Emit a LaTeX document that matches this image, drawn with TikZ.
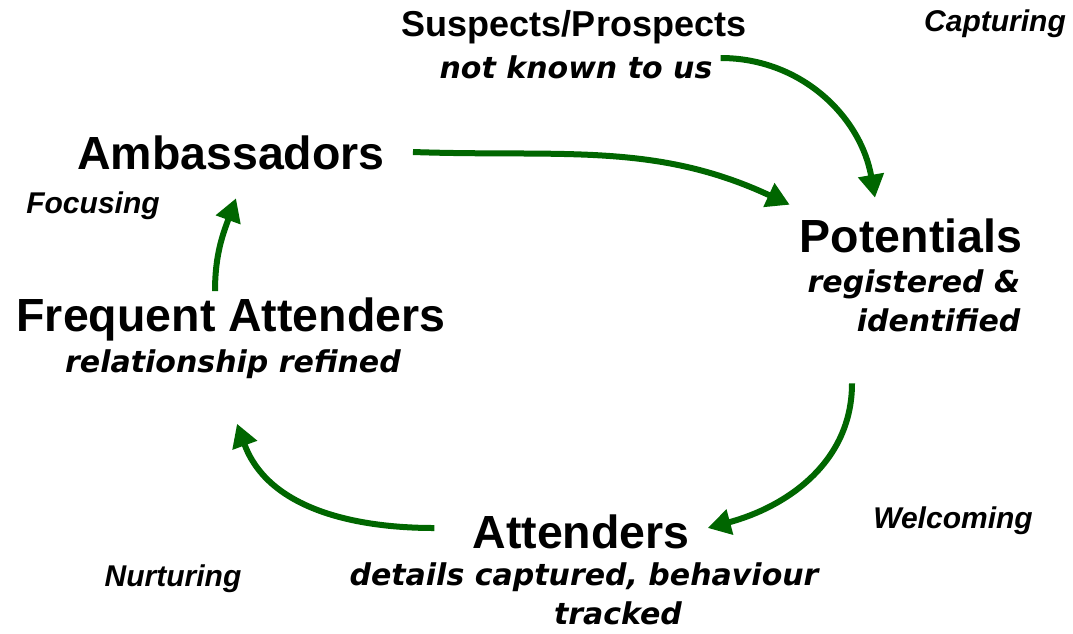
\documentclass[tikz,border=0pt]{standalone}
\usepackage{fontspec}
\setmainfont{Liberation Sans}
\newfontfamily\notefont{DejaVu Sans}
\usetikzlibrary{arrows.meta}
\definecolor{flowgreen}{RGB}{0,102,0}

\begin{document}
\begin{tikzpicture}[x=1pt, y=1pt,
    stage/.style={inner sep=0pt, font=\fontsize{46.5}{50}\selectfont\bfseries},
    note/.style={inner sep=0pt, align=center, font=\fontsize{30}{39}\selectfont\notefont\bfseries\itshape},
    phase/.style={inner sep=0pt, font=\fontsize{30}{34}\selectfont\bfseries\itshape},
    flow/.style={flowgreen, line width=6pt, -{Triangle[length=23pt, width=25pt]}}]
    \useasboundingbox (0,0) rectangle (1073,-633);

    % the stages of the cycle
    \node[inner sep=0pt, font=\fontsize{36}{40}\selectfont\bfseries] (suspects) at (574,-27) {Suspects/Prospects};
    \node[note] (susnote) at (576,-67) {not known to us};
    \node[stage] (ambassadors) at (231,-153) {Ambassadors};
    \node[stage] (potentials) at (911,-236) {Potentials};
    \node[note, align=right] (potnote) at (914,-301) {registered \&\\identified};
    \node[stage] (frequent) at (231,-319) {Frequent Attenders};
    \node[note] (freqnote) at (233,-364) {relationship refined};
    \node[stage] (attenders) at (581,-532) {Attenders};
    \node[note] (attnote) at (584,-594) {details captured, behaviour\\\hspace*{68pt}tracked};

    % what happens between them
    \node[phase] (capturing) at (995,-24) {Capturing};
    \node[phase] (focusing) at (93,-206) {Focusing};
    \node[phase] (welcoming) at (953,-521) {Welcoming};
    \node[phase] (nurturing) at (173,-579) {Nurturing};

    \draw[flow] ([shift={(8,9)}]susnote.east) to[out=0, in=100] ([shift={(-36,21)}]potentials.north);
    \draw[flow] ([shift={(28,1)}]ambassadors.east) to[out=-2, in=155] ([shift={(-10,14)}]potentials.north west);
    \draw[flow] ([shift={(-62,-51)}]potnote.south) to[out=-90, in=15] ([shift={(18,4)}]attenders.east);
    \draw[flow] ([shift={(-38,4)}]attenders.west) to[out=180, in=-70] ([shift={(4,-45)}]freqnote.south);
    \draw[flow] ([shift={(-16,6)}]frequent.north) to[out=90, in=-110] ([shift={(5,-28)}]ambassadors.south);
\end{tikzpicture}
\end{document}
